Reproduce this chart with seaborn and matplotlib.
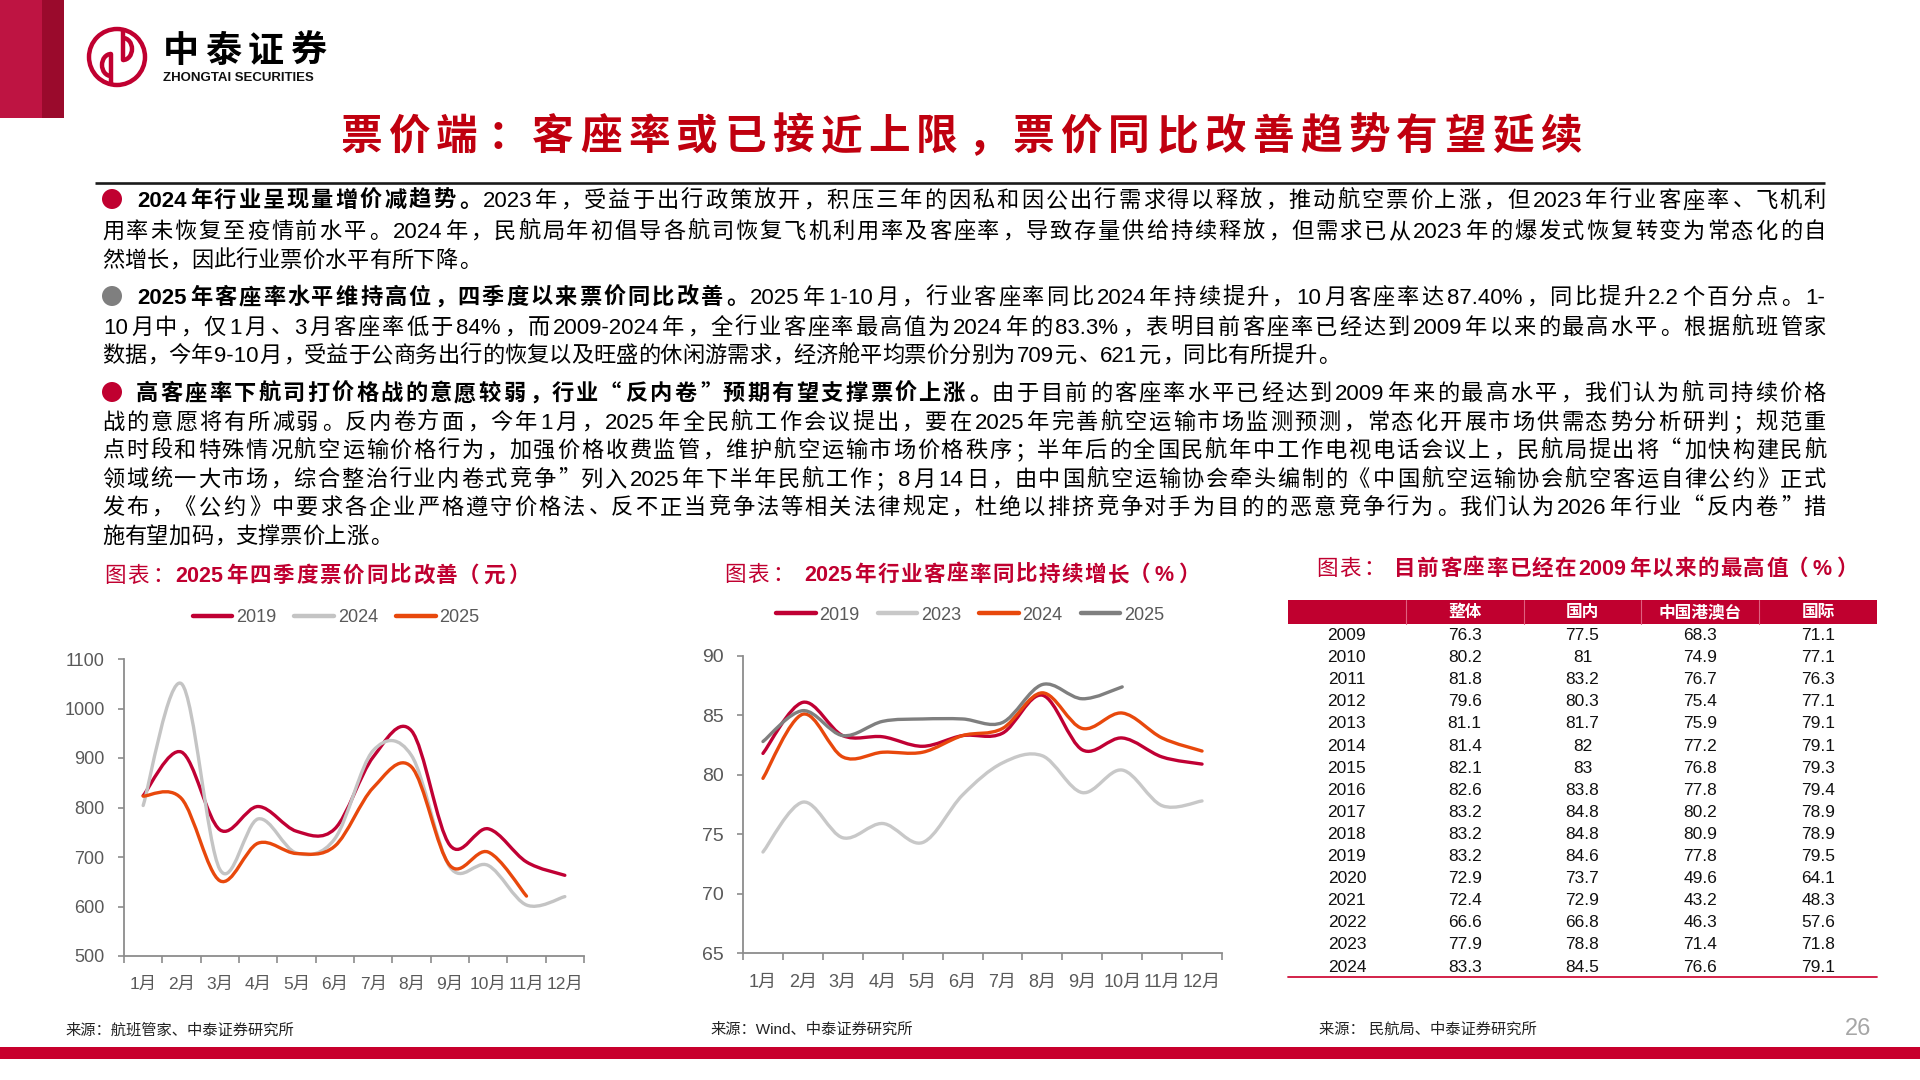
import numpy as np
import pandas as pd
import matplotlib
matplotlib.use('Agg')
import matplotlib.pyplot as plt
import seaborn as sns
from matplotlib.path import Path
from matplotlib.patches import PathPatch, Rectangle, Circle, Arc
from matplotlib.lines import Line2D

W, H = 1920, 1080
CJK = 'Noto Sans CJK SC'
LAT = 'Liberation Sans'

months = [f'{i}月' for i in range(1, 13)]

# chart 1: average ticket price (yuan)
price_years = ['2019', '2024', '2025']
price_2019 = [824, 912, 755, 802, 752, 757, 902, 955, 724, 757, 690, 663]
price_2024 = [804, 1050, 675, 777, 708, 737, 915, 905, 680, 683, 603, 620]
price_2025 = [823, 818, 652, 728, 707, 722, 840, 882, 683, 710, 621]
price_colors = ['#C00034', '#C4C4C4', '#E8480C']

# chart 2: passenger load factor (%)
lf_years = ['2019', '2023', '2024', '2025']
lf_2019 = [81.8, 86.1, 83.3, 83.2, 82.4, 83.3, 83.5, 86.7, 82.1, 83.1, 81.5, 80.9]
lf_2023 = [73.5, 77.7, 74.7, 75.9, 74.3, 78.3, 81.0, 81.6, 78.5, 80.4, 77.4, 77.8]
lf_2024 = [79.7, 85.1, 81.5, 81.9, 81.9, 83.3, 83.9, 86.9, 83.9, 85.2, 83.1, 82.0]
lf_2025 = [82.8, 85.4, 83.3, 84.5, 84.7, 84.7, 84.4, 87.6, 86.4, 87.4]
lf_colors = ['#C00034', '#C8C8C8', '#E8480C', '#7F7F7F']

# table: load factor since 2009 (%)
tbl_years = list(range(2009, 2025))
tbl_cols = ['整体', '国内', '中国港澳台', '国际']
lf_total = [76.3, 80.2, 81.8, 79.6, 81.1, 81.4, 82.1, 82.6, 83.2, 83.2, 83.2, 72.9, 72.4, 66.6, 77.9, 83.3]
lf_domestic = [77.5, 81, 83.2, 80.3, 81.7, 82, 83, 83.8, 84.8, 84.8, 84.6, 73.7, 72.9, 66.8, 78.8, 84.5]
lf_regional = [68.3, 74.9, 76.7, 75.4, 75.9, 77.2, 76.8, 77.8, 80.2, 80.9, 77.8, 49.6, 43.2, 46.3, 71.4, 76.6]
lf_intl = [71.1, 77.1, 76.3, 77.1, 79.1, 79.1, 79.3, 79.4, 78.9, 78.9, 79.5, 64.1, 48.3, 57.6, 71.8, 79.1]

title = '票价端：客座率或已接近上限，票价同比改善趋势有望延续'
para1 = [
    [('2024年行业呈现量增价减趋势。', 'bold'),
     ('2023年，受益于出行政策放开，积压三年的因私和因公出行需求得以释放，推动航空票价上涨，但2023年行业客座率、飞机利', 'normal')],
    [('用率未恢复至疫情前水平。2024年，民航局年初倡导各航司恢复飞机利用率及客座率，导致存量供给持续释放，但需求已从2023年的爆发式恢复转变为常态化的自', 'normal')],
    [('然增长，因此行业票价水平有所下降。', 'normal')],
]
para2 = [
    [('2025年客座率水平维持高位，四季度以来票价同比改善。', 'bold'),
     ('2025年1-10月，行业客座率同比2024年持续提升，10月客座率达87.40%，同比提升2.2个百分点。1-', 'normal')],
    [('10月中，仅1月、3月客座率低于84%，而2009-2024年，全行业客座率最高值为2024年的83.3%，表明目前客座率已经达到2009年以来的最高水平。根据航班管家', 'normal')],
    [('数据，今年9-10月，受益于公商务出行的恢复以及旺盛的休闲游需求，经济舱平均票价分别为709元、621元，同比有所提升。', 'normal')],
]
para3 = [
    [('高客座率下航司打价格战的意愿较弱，行业“反内卷”预期有望支撑票价上涨。', 'bold'),
     ('由于目前的客座率水平已经达到2009年来的最高水平，我们认为航司持续价格', 'normal')],
    [('战的意愿将有所减弱。反内卷方面，今年1月，2025年全民航工作会议提出，要在2025年完善航空运输市场监测预测，常态化开展市场供需态势分析研判；规范重', 'normal')],
    [('点时段和特殊情况航空运输价格行为，加强价格收费监管，维护航空运输市场价格秩序；半年后的全国民航年中工作电视电话会议上，民航局提出将“加快构建民航', 'normal')],
    [('领域统一大市场，综合整治行业内卷式竞争”列入2025年下半年民航工作；8月14日，由中国航空运输协会牵头编制的《中国航空运输协会航空客运自律公约》正式', 'normal')],
    [('发布，《公约》中要求各企业严格遵守价格法、反不正当竞争法等相关法律规定，杜绝以排挤竞争对手为目的的恶意竞争行为。我们认为2026年行业“反内卷”措', 'normal')],
    [('施有望加码，支撑票价上涨。', 'normal')],
]

RED = '#C00030'

sns.set_theme(style='white')
plt.rcParams['font.family'] = [LAT, CJK]
plt.rcParams['axes.unicode_minus'] = False

fig = plt.figure(figsize=(19.2, 10.8), dpi=100)
bg = fig.add_axes([0, 0, 1, 1], zorder=0)
bg.set_xlim(0, W)
bg.set_ylim(H, 0)
bg.axis('off')
rend = fig.canvas.get_renderer()

PUNCT_L = set('，。、；：！？”’）》')
PUNCT_R = set('“‘（《')


def split_tokens(s):
    toks, buf = [], ''
    for ch in s:
        if ord(ch) < 128:
            buf += ch
        else:
            if buf:
                toks.append(buf)
                buf = ''
            toks.append(ch)
    if buf:
        toks.append(buf)
    return toks


def text_line(segs, x0, y, x1=None, size=16, color='black'):
    # lays out one line token by token, justified between x0 and x1
    em = size / 72 * 100
    base = y + 0.36 * em
    items = []
    for s, weight in segs:
        for tok in split_tokens(s):
            if ord(tok[0]) < 128:
                t = bg.text(0, base, tok, fontsize=size, fontweight=weight, color=color,
                            family=LAT, ha='left', va='baseline')
                w = t.get_window_extent(rend).width + 0.1 * em
            else:
                t = bg.text(0, base, tok, fontsize=size, fontweight=weight, color=color,
                            family=CJK, ha='center', va='baseline')
                w = em
            items.append((tok, t, w))
    gap = 0
    if x1 is not None and len(items) > 1:
        gap = (x1 - x0 - sum(w for _, _, w in items)) / (len(items) - 1)
    x = x0
    for tok, t, w in items:
        if ord(tok[0]) < 128:
            t.set_x(x + 0.05 * em)
        elif tok in PUNCT_L:
            t.set_ha('left')
            t.set_x(x + 0.08 * em)
        elif tok in PUNCT_R:
            t.set_ha('right')
            t.set_x(x + 0.92 * em)
        else:
            t.set_x(x + em / 2)
        x += w + gap


# header: red block, logo and title
bg.add_patch(Rectangle((0, 0), 42, 118, color='#BE1442', lw=0))
bg.add_patch(Rectangle((42, 0), 22, 118, color='#9A0A2C', lw=0))
bg.add_patch(Circle((117, 57), 28, fill=False, ec=RED, lw=3.2))
bg.add_patch(Arc((111, 65), 18, 22, theta1=90, theta2=270, ec=RED, lw=3.2))
bg.add_patch(Arc((123, 49), 18, 22, theta1=-90, theta2=90, ec=RED, lw=3.2))
bg.plot([111, 111], [54, 84], color=RED, lw=3.2)
bg.plot([123, 123], [30, 60], color=RED, lw=3.2)
text_line([('中泰证券', 'bold')], 163, 49, 326, size=26)
bg.text(163, 78, 'ZHONGTAI SECURITIES', fontsize=9.5, fontweight='bold', family=LAT,
        ha='left', va='center', color='#111111')

text_line([(title, 'bold')], 340, 134, 1582, size=30, color='#C0000F')
bg.plot([95, 1825], [183, 183], color='#1A1A1A', lw=1.9, solid_capstyle='butt')

# body paragraphs
for paras, bullet_color, ys in [(para1, RED, [199, 230, 259]),
                                (para2, '#7F7F7F', [296, 326, 354]),
                                (para3, RED, [392, 421, 449, 478, 506, 535])]:
    bg.add_patch(Circle((112, ys[0]), 10, color=bullet_color, lw=0))
    for i, (segs, y) in enumerate(zip(paras, ys)):
        x0 = 136 if i == 0 else 102
        x1 = 1826 if i < len(paras) - 1 else None
        text_line(segs, x0, y, x1, size=16)

# chart titles
text_line([('图表：', 'normal'), ('2025年四季度票价同比改善（元）', 'bold')], 104, 574, 528, size=15.5, color=RED)
text_line([('图表： ', 'normal'), ('2025年行业客座率同比持续增长（%）', 'bold')], 724, 573, 1198, size=15.5, color=RED)
text_line([('图表： ', 'normal'), ('目前客座率已经在2009年以来的最高值（%）', 'bold')], 1316, 567, 1856, size=15.5, color=RED)


def smooth_path(x, y):
    # smoothed line through the points (cubic bezier, catmull-rom tangents)
    pts = np.column_stack([x, y]).astype(float)
    ext = np.vstack([pts[0], pts, pts[-1]])
    verts = [pts[0]]
    codes = [Path.MOVETO]
    for i in range(len(pts) - 1):
        p0, p1, p2, p3 = ext[i], ext[i + 1], ext[i + 2], ext[i + 3]
        verts += [p1 + (p2 - p0) / 6, p2 - (p3 - p1) / 6, p2]
        codes += [Path.CURVE4] * 3
    return Path(verts, codes)


def line_chart(ax, series, years, colors, ylim, yticks, legend_xy, xsize, ysize):
    rows = []
    for yr, vals in zip(years, series):
        for m, v in enumerate(vals):
            rows.append({'month': m, 'value': v, 'year': yr})
    df = pd.DataFrame(rows)
    pal = dict(zip(years, colors))
    sns.lineplot(data=df, x='month', y='value', hue='year', hue_order=years,
                 palette=pal, lw=2.4, legend=False, ax=ax)
    for line in list(ax.lines):
        xd, yd = line.get_data()
        ax.add_patch(PathPatch(smooth_path(np.asarray(xd), np.asarray(yd)), fill=False,
                               ec=line.get_color(), lw=line.get_linewidth(),
                               capstyle='round', joinstyle='round', zorder=2))
        line.remove()
    ax.set_xlim(-0.5, 11.5)
    ax.set_ylim(*ylim)
    ax.set_yticks(yticks)
    ax.set_xticks(range(12))
    ax.set_xticklabels(months)
    ax.set_xticks(np.arange(13) - 0.5, minor=True)
    ax.set_xlabel('')
    ax.set_ylabel('')
    sns.despine(ax=ax)
    for sp in ['left', 'bottom']:
        ax.spines[sp].set_color('#8C8C8C')
        ax.spines[sp].set_linewidth(1.3)
    ax.tick_params(axis='y', left=True, length=4, width=1.2, color='#8C8C8C', pad=10,
                   labelsize=ysize, labelcolor='#595959')
    ax.tick_params(axis='x', which='major', bottom=False, length=0, pad=15,
                   labelsize=xsize, labelcolor='#595959')
    ax.tick_params(axis='x', which='minor', bottom=True, length=5, width=1.2, color='#8C8C8C')
    ax.set_facecolor('white')
    handles = [Line2D([], [], color=c, lw=3.2) for c in colors]
    ax.legend(handles, years, loc='center', bbox_to_anchor=(legend_xy[0] / W, 1 - legend_xy[1] / H),
              bbox_transform=fig.transFigure, ncol=len(years), frameon=False, fontsize=13,
              handlelength=2.2, handletextpad=0.2, columnspacing=1.0, labelcolor='#595959')


ax1 = fig.add_axes([124 / W, 1 - 956 / H, 460 / W, 297 / H])
line_chart(ax1, [price_2019, price_2024, price_2025], price_years, price_colors,
           (500, 1100), range(500, 1101, 100), (336, 618), 12.5, 13)

ax2 = fig.add_axes([743 / W, 1 - 953 / H, 479 / W, 297 / H])
line_chart(ax2, [lf_2019, lf_2023, lf_2024, lf_2025], lf_years, lf_colors,
           (65, 90), range(65, 91, 5), (970, 615), 13, 14)

# table
tx = fig.add_axes([1288 / W, 1 - 977 / H, 589 / W, 377 / H])
tx.set_xlim(0, 5)
tx.set_ylim(15.45, -1.606)
tx.axis('off')
tx.axhspan(-1.606, -0.52, color='#C0002F', lw=0)
for c in range(1, 5):
    tx.plot([c, c], [-1.606, -0.52], color='#E06080', lw=0.8)
for c, name in enumerate(tbl_cols):
    tx.text(c + 1.5, -1.063, name, ha='center', va='center', color='white',
            fontsize=12, fontweight='bold', family=CJK)
for r, yr in enumerate(tbl_years):
    tx.text(0.5, r, str(yr), ha='center', va='center', fontsize=12.5, color='#111111')
    for c, col in enumerate([lf_total, lf_domestic, lf_regional, lf_intl]):
        tx.text(c + 1.5, r, f'{col[r]:g}', ha='center', va='center', fontsize=12.5, color='#111111')
tx.plot([0, 5], [15.45, 15.45], color='#D0103A', lw=1.3, clip_on=False)

# footer
for x, s in [(65, '来源：航班管家、中泰证券研究所'), (710, '来源：Wind、中泰证券研究所'),
             (1319, '来源： 民航局、中泰证券研究所')]:
    bg.text(x, 1030, s, fontsize=11, ha='left', va='center', color='#222222')
bg.text(1858, 1029, '26', fontsize=17, ha='center', va='center', color='#A6A6A6')
bg.add_patch(Rectangle((0, 1047), W, 12, color='#C8002D', lw=0))

fig.savefig('out.png', dpi=100, facecolor='white')
